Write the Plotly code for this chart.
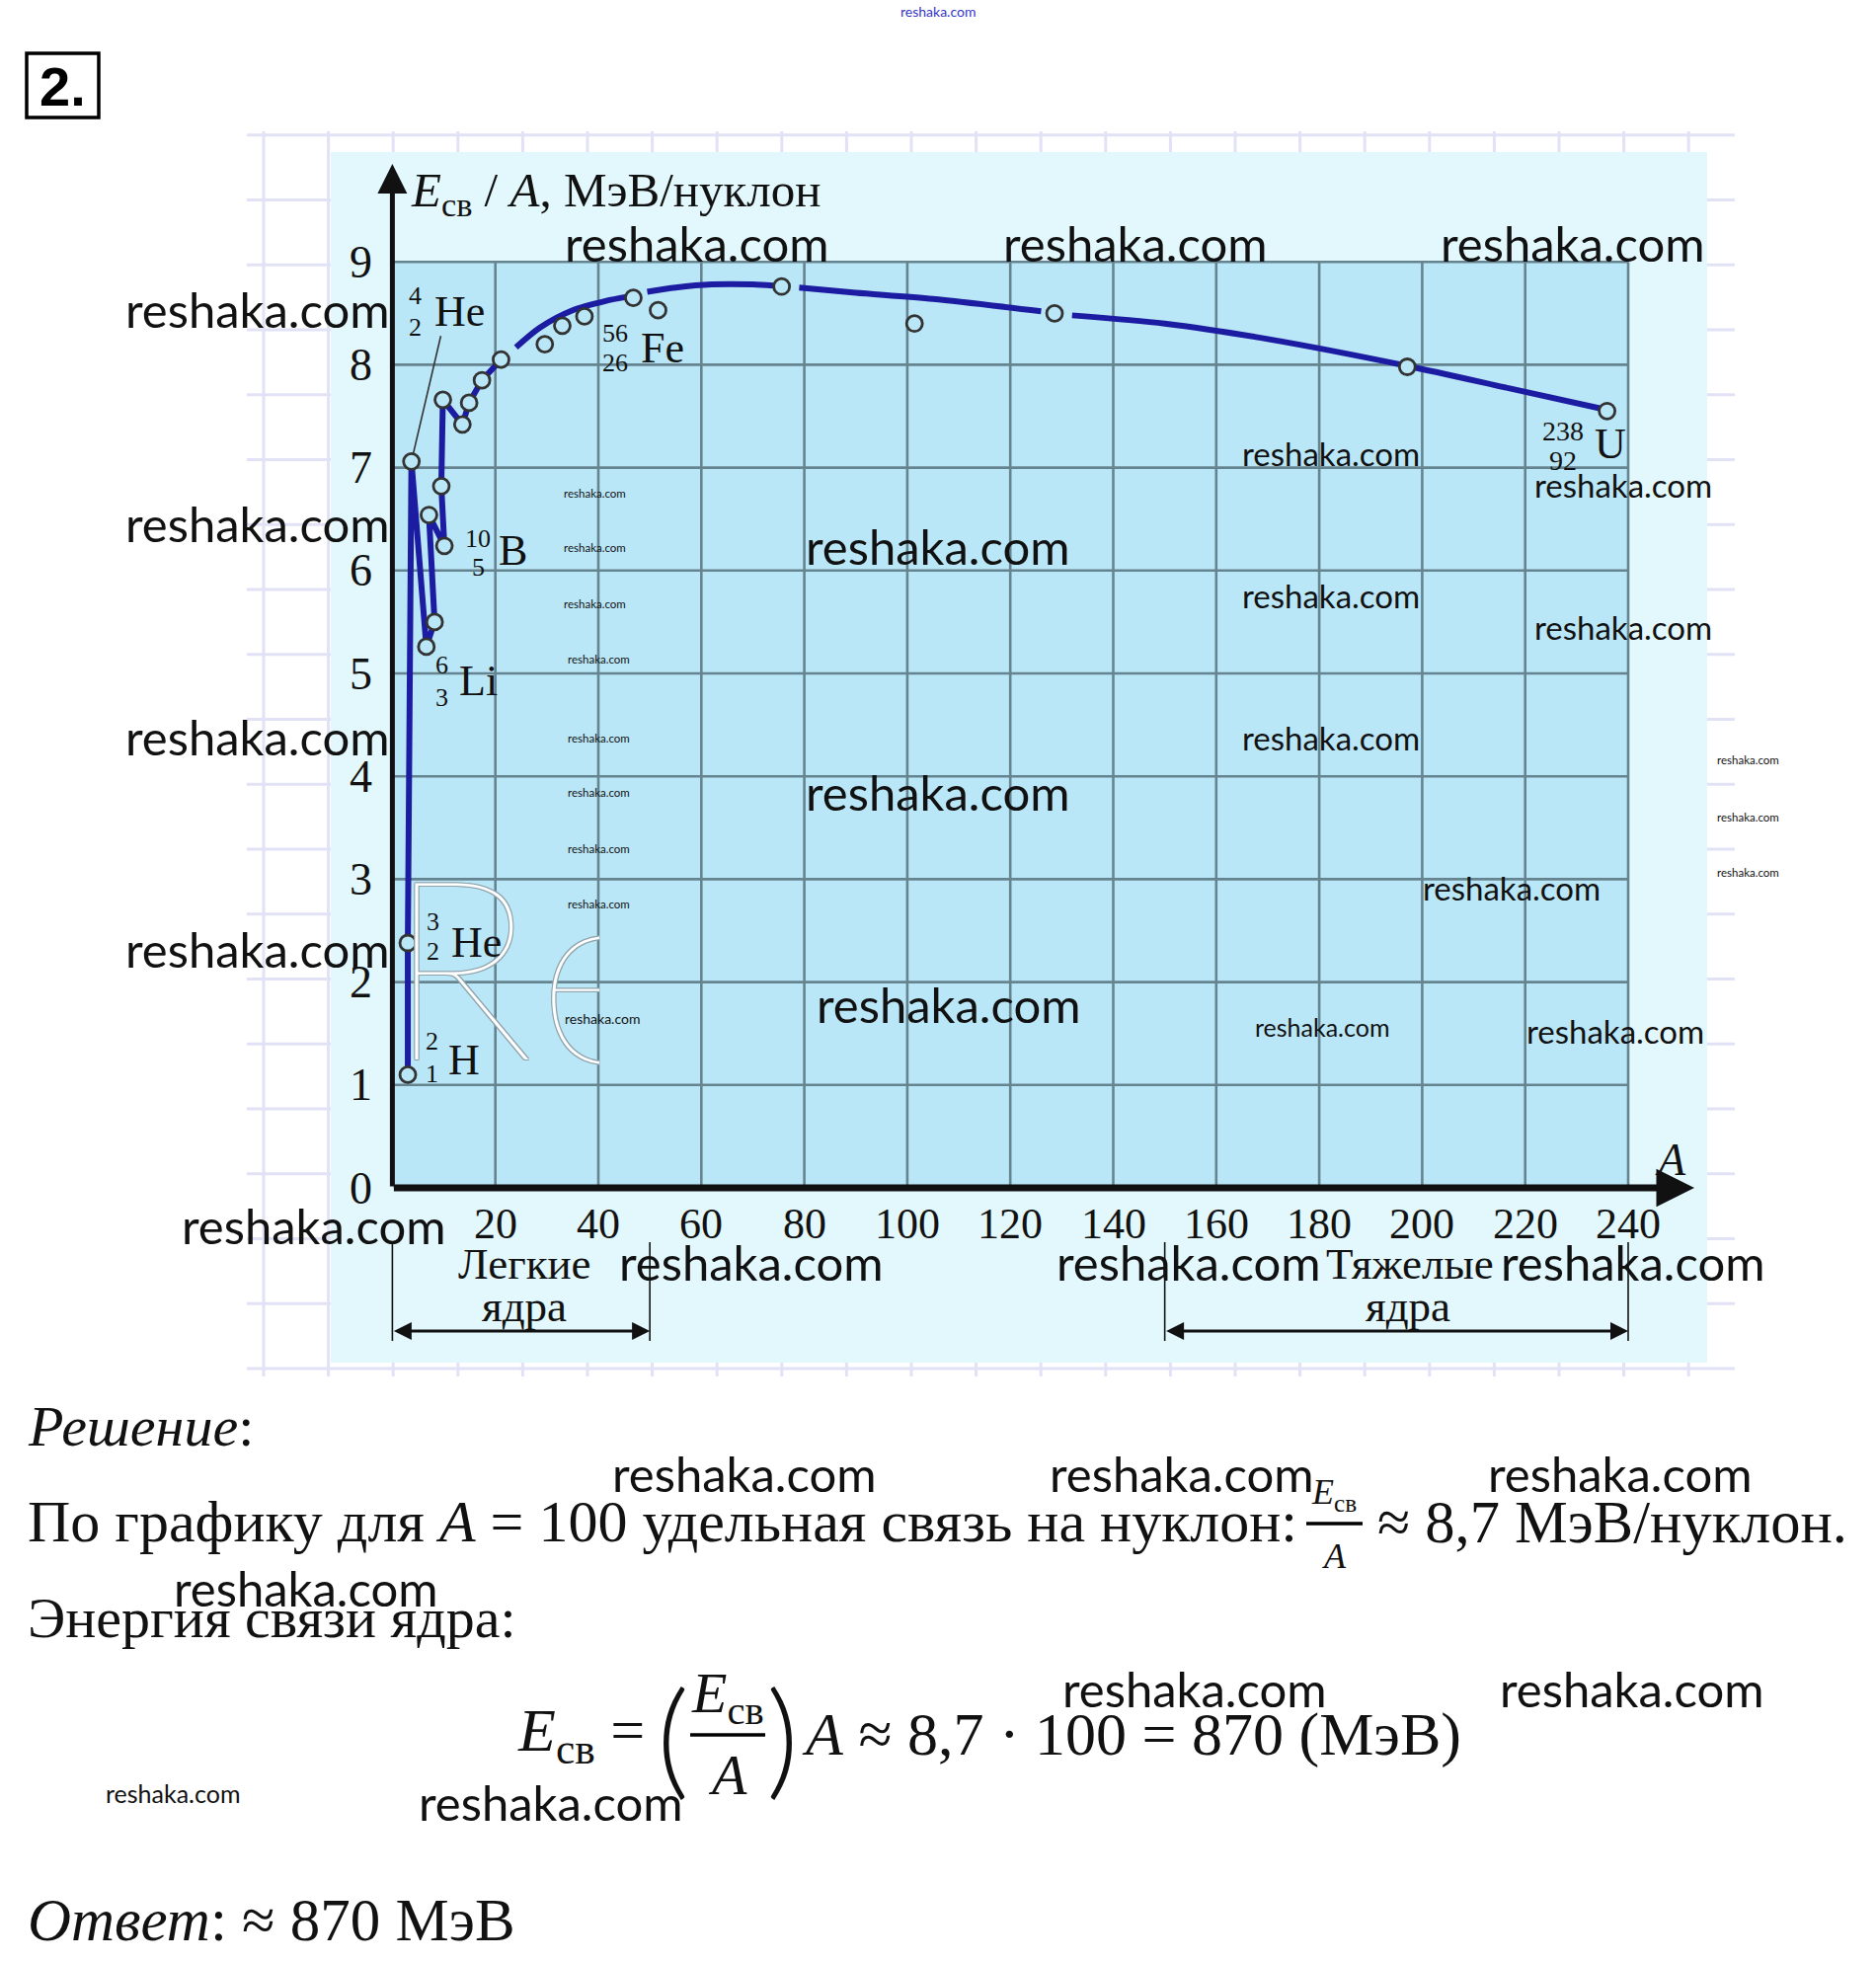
import plotly.graph_objects as go

W, H = 1900, 1986

# ---------------- data ----------------
x_ticks = [20, 40, 60, 80, 100, 120, 140, 160, 180, 200, 220, 240]
y_ticks = [0, 1, 2, 3, 4, 5, 6, 7, 8, 9]

# zig-zag of the light nuclei (H-2 ... A~21)
light_A = [3.0, 3.0, 3.7, 6.6, 8.2, 7.1, 10.1, 9.5, 9.8, 13.6, 14.9, 17.4, 21.1]
light_E = [1.10, 2.38, 7.06, 5.26, 5.50, 6.54, 6.24, 6.82, 7.66, 7.42, 7.63, 7.85, 8.05]

# smooth curve (gaps where the drawing breaks near the circles)
curve_A = [24, 28.6, 35, 41.4, 45.5, None, 49.5, 55, 62, 70, 74, None,
           79, 90, 105, 126, None, 132, 150, 170, 197, 217, 236]
curve_E = [8.17, 8.36, 8.53, 8.62, 8.66, None, 8.71, 8.75, 8.78, 8.78, 8.77, None,
           8.75, 8.70, 8.64, 8.52, None, 8.48, 8.40, 8.25, 7.99, 7.77, 7.56]

# measured nuclei (circles)
pts_A = [3.0, 3.0, 3.7, 6.6, 8.2, 7.1, 10.1, 9.5, 9.8, 13.6, 14.9, 17.4, 21.1,
         29.6, 33.0, 37.3, 46.8, 51.6, 75.6, 101.4, 128.6, 197.1, 235.9]
pts_E = [1.10, 2.38, 7.06, 5.26, 5.50, 6.54, 6.24, 6.82, 7.66, 7.42, 7.63, 7.85, 8.05,
         8.20, 8.38, 8.47, 8.65, 8.53, 8.76, 8.40, 8.50, 7.98, 7.55]

# leader line from He-4 point to its label
leader_A = [3.7, 9.4]
leader_E = [7.06, 8.28]

light_range = [0, 50]
heavy_range = [150, 240]

# ---------------- pixel <-> axis mapping ----------------
X0_PX, X_PER = 397.4, 5.215
Y0_PX, Y_PER = 1203.0, 104.2


def A_of(px):
    return (px - X0_PX) / X_PER


def E_of(py):
    return (Y0_PX - py) / Y_PER


def xp(px):
    return px / W


def yp(py):
    return 1 - py / H


SERIF = "Liberation Serif"
LIGHT_BG = "#e2f8fc"
DARK_BG = "#bae7f7"
GRID = "#66848f"
CURVE = "#1c1ca2"
INK = "#111111"
LOGO_SHADOW = "1px 1px 0 #8fa3ab, -1px -1px 0 #8fa3ab, 1px -1px 0 #8fa3ab, -1px 1px 0 #8fa3ab"

fig = go.Figure()

# clipped "e" of the logo (separate subplot so it is cut at A=40)
fig.add_trace(go.Scatter(
    x=[A_of(610)], y=[E_of(1012)], mode="text", text=["e"], textposition="middle center",
    textfont=dict(family="Lato", size=258, color="white", weight=200, shadow=LOGO_SHADOW),
    xaxis="x2", yaxis="y2", cliponaxis=True, hoverinfo="skip", showlegend=False))

# leader line
fig.add_trace(go.Scatter(x=leader_A, y=leader_E, mode="lines",
                         line=dict(color="#333333", width=1.6), hoverinfo="skip"))
# light nuclei zig-zag
fig.add_trace(go.Scatter(x=light_A, y=light_E, mode="lines",
                         line=dict(color=CURVE, width=6), hoverinfo="skip"))
# smooth curve
fig.add_trace(go.Scatter(x=curve_A, y=curve_E, mode="lines", connectgaps=False,
                         line=dict(color=CURVE, width=6, shape="spline", smoothing=0.8),
                         hoverinfo="skip"))
# circles
fig.add_trace(go.Scatter(x=pts_A, y=pts_E, mode="markers", cliponaxis=False,
                         marker=dict(symbol="circle", size=16, color=DARK_BG,
                                     line=dict(color="#333333", width=2.8)),
                         hoverinfo="skip"))

shapes = []
# paper grid
for k in range(23):
    px = 267 + 65.6 * k
    shapes.append(dict(type="line", xref="paper", yref="paper", layer="below",
                       x0=xp(px), x1=xp(px), y0=yp(133), y1=yp(1394),
                       line=dict(color="#e2e2f6", width=3)))
for k in range(20):
    py = 136.7 + 65.75 * k
    shapes.append(dict(type="line", xref="paper", yref="paper", layer="below",
                       x0=xp(250), x1=xp(1757), y0=yp(py), y1=yp(py),
                       line=dict(color="#e2e2f6", width=3)))
# light background panel
shapes.append(dict(type="rect", xref="paper", yref="paper", layer="below",
                   x0=xp(335), x1=xp(1729), y0=yp(1380), y1=yp(154),
                   fillcolor=LIGHT_BG, line=dict(width=0)))
# darker plotting field
shapes.append(dict(type="rect", xref="x", yref="y", layer="below",
                   x0=0, x1=x_ticks[-1], y0=0, y1=y_ticks[-1],
                   fillcolor=DARK_BG, line=dict(width=0)))
# grid lines
for xv in x_ticks:
    shapes.append(dict(type="line", xref="x", yref="y", layer="below",
                       x0=xv, x1=xv, y0=0, y1=y_ticks[-1],
                       line=dict(color=GRID, width=2.6)))
for yv in y_ticks[1:]:
    shapes.append(dict(type="line", xref="x", yref="y", layer="below",
                       x0=0, x1=x_ticks[-1], y0=yv, y1=yv,
                       line=dict(color=GRID, width=2.6)))
# bracket verticals (light / heavy nuclei)
for rng in (light_range, heavy_range):
    for xv in rng:
        shapes.append(dict(type="line", xref="x", yref="y",
                           x0=xv, x1=xv, y0=E_of(1258), y1=E_of(1358),
                           line=dict(color=INK, width=1.6)))
# "2." box
shapes.append(dict(type="rect", xref="paper", yref="paper",
                   x0=xp(27), x1=xp(100), y0=yp(119), y1=yp(54),
                   line=dict(color="black", width=3.5)))
# fraction bars in the solution
shapes.append(dict(type="line", xref="paper", yref="paper",
                   x0=xp(1323), x1=xp(1380), y0=yp(1543), y1=yp(1543),
                   line=dict(color="black", width=3.5)))
shapes.append(dict(type="line", xref="paper", yref="paper",
                   x0=xp(699), x1=xp(775), y0=yp(1757), y1=yp(1757),
                   line=dict(color="black", width=3.5)))

ann = []


def ptext(px, py, text, size, family=SERIF, color=INK, xanchor="center", **kw):
    font = dict(family=family, size=size, color=color)
    font.update(kw)
    ann.append(dict(xref="paper", yref="paper", x=xp(px), y=yp(py), text=text,
                    showarrow=False, xanchor=xanchor, yanchor="middle", font=font))


# logo "R"
ptext(466, 975, "R", 254, family="Lato", color="white", weight=200, shadow=LOGO_SHADOW)

# axes with arrows
ann.append(dict(x=0, y=E_of(166), ax=0, ay=0, xref="x", yref="y", axref="x", ayref="y",
                showarrow=True, arrowhead=2, arrowsize=1.2, arrowwidth=5,
                arrowcolor=INK, text="", standoff=0))
ann.append(dict(x=A_of(1716), y=0, ax=0, ay=0, xref="x", yref="y", axref="x", ayref="y",
                showarrow=True, arrowhead=2, arrowsize=1.1, arrowwidth=7,
                arrowcolor=INK, text="", standoff=0))
# bracket double arrows
for rng in (light_range, heavy_range):
    ann.append(dict(x=rng[1], y=E_of(1348), ax=rng[0], ay=E_of(1348),
                    xref="x", yref="y", axref="x", ayref="y",
                    showarrow=True, arrowhead=2, startarrowhead=2, arrowside="end+start",
                    arrowsize=1.2, startarrowsize=1.2, arrowwidth=3, arrowcolor=INK,
                    text="", standoff=0, startstandoff=0))

# tick labels
for xv in x_ticks:
    ann.append(dict(x=xv, y=E_of(1239), xref="x", yref="y", text=str(xv), showarrow=False,
                    xanchor="center", yanchor="middle",
                    font=dict(family=SERIF, size=44, color=INK)))
for yv in y_ticks:
    ann.append(dict(x=A_of(365), y=yv, xref="x", yref="y", text=str(yv), showarrow=False,
                    xanchor="center", yanchor="middle",
                    font=dict(family=SERIF, size=46, color=INK)))

# axis titles
ptext(414, 195, "<i>E</i><sub>св</sub> / <i>A</i>, МэВ/нуклон", 49, xanchor="left")
ptext(1692, 1174, "<i>A</i>", 46)


# nuclide labels
def nuclide(mass, z, sym, px_num, py_mass, py_z, px_sym, py_sym, nsize=26):
    ptext(px_num, py_mass, mass, nsize)
    ptext(px_num, py_z, z, nsize)
    ptext(px_sym, py_sym, sym, 44)


nuclide("4", "2", "He", 420, 299, 332, 465, 316)
nuclide("10", "5", "B", 484, 545, 574, 519, 557)
nuclide("6", "3", "Li", 447, 673, 706, 484, 689)
nuclide("3", "2", "He", 438, 933, 963, 482, 954)
nuclide("2", "1", "H", 437, 1054, 1087, 470, 1073)
nuclide("56", "26", "Fe", 623, 338, 368, 671, 353)
nuclide("238", "92", "U", 1583, 436, 466, 1631, 449, nsize=28)

# bracket captions
for txt, px, py in (("Легкие", 531, 1280), ("ядра", 531, 1323),
                    ("Тяжелые", 1428, 1280), ("ядра", 1426, 1323)):
    ptext(px, py, txt, 45)

# "2." number
ptext(63, 87, "<b>2.</b>", 56, family="Liberation Sans Narrow, Liberation Sans", color="black")

# solution text
SOL = 58
ptext(26, 1444, "<i>Решение</i>:", SOL, xanchor="left")
ptext(26, 1541, "По графику для <i>A</i> = 100 удельная связь на нуклон:", 60, xanchor="left")
ptext(1351, 1513, "<i>E</i><sub>св</sub>", 36)
ptext(1351, 1576, "<i>A</i>", 36)
ptext(1393, 1541, "≈ 8,7 МэВ/нуклон.", 60.5, xanchor="left")
ptext(26, 1638, "Энергия связи ядра:", SOL, xanchor="left")
# formula
FOR = 62
ptext(655, 1756, "<i>E</i><sub>св</sub> =", FOR, xanchor="right")
ptext(681, 1756, "(", 128, family="Lato", weight=300)
ptext(737, 1718, "<i>E</i><sub>св</sub>", SOL)
ptext(737, 1797, "<i>A</i>", SOL)
ptext(792, 1756, ")", 128, family="Lato", weight=300)
ptext(810, 1756, "<i>A</i> ≈ 8,7 · 100 = 870 (МэВ)", FOR, xanchor="left")
ptext(26, 1944, "<i>Ответ</i>: ≈ 870 МэВ", 61, xanchor="left")

# watermarks
wm_big = [(705, 246), (1149, 246), (1592, 246), (260, 313), (260, 530), (260, 746),
          (260, 961), (317, 1241), (760, 1278), (1203, 1278), (1653, 1278),
          (949, 553), (949, 802), (960, 1017), (753, 1492), (1196, 1492), (1640, 1492),
          (309, 1608), (1209, 1710), (1652, 1710), (557, 1825)]
wm_mid = [(1348, 459), (1644, 491), (1348, 603), (1644, 635), (1348, 747),
          (1531, 899), (1636, 1044)]
wm_small = [(1339, 1040), (175, 1816)]
wm_tiny = [(602, 499), (602, 555), (602, 611), (606, 667), (606, 747), (606, 803),
           (606, 859), (606, 915), (1770, 770), (1770, 827), (1770, 883)]

for lst, size in ((wm_big, 49), (wm_mid, 33), (wm_small, 25), (wm_tiny, 11.5)):
    for px, py in lst:
        ptext(px, py, "reshaka.com", size, family="Lato")
ptext(610, 1031, "reshaka.com", 14, family="Lato")
ptext(950, 11, "reshaka.com", 14, family="Lato", color="#3535c8")

fig.update_layout(
    width=W, height=H,
    margin=dict(l=0, r=0, t=0, b=0),
    paper_bgcolor="white", plot_bgcolor="rgba(0,0,0,0)",
    showlegend=False,
    xaxis=dict(range=[A_of(0), A_of(W)], domain=[0, 1], visible=False, fixedrange=True),
    yaxis=dict(range=[E_of(H), E_of(0)], domain=[0, 1], visible=False, fixedrange=True),
    xaxis2=dict(range=[A_of(0), A_of(607)], domain=[0, 607 / W], visible=False,
                anchor="y2", fixedrange=True),
    yaxis2=dict(range=[E_of(H), E_of(0)], domain=[0, 1], visible=False,
                anchor="x2", fixedrange=True),
    shapes=shapes,
    annotations=ann,
)

fig.write_html("out.html", config={"displayModeBar": False},
               post_script="document.body.style.margin='0px';")
